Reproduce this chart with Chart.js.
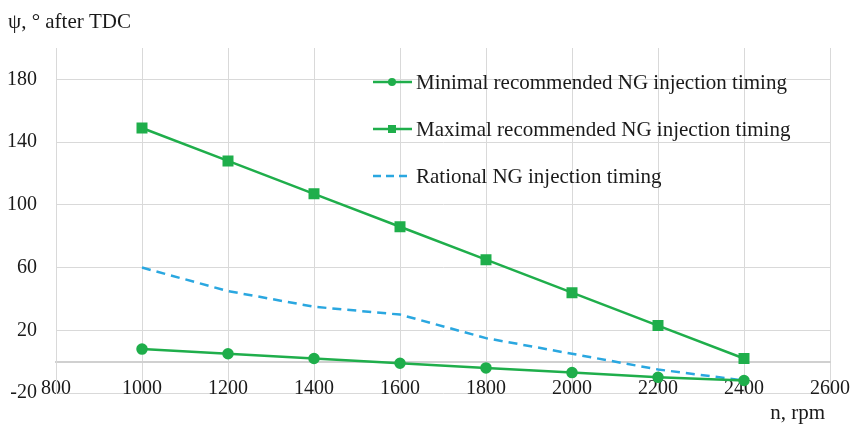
<!DOCTYPE html>
<html>
<head>
<meta charset="utf-8">
<script src="https://cdn.jsdelivr.net/npm/chart.js@4.4.1/dist/chart.umd.min.js"></script>
<style>
  html, body { margin: 0; padding: 0; background: #fff; }
  #wrap { position: relative; width: 853px; height: 426px; }
</style>
</head>
<body>
<div id="wrap"><canvas id="c" width="853" height="426"></canvas></div>
<script>
// ── Data ───────────────────────────────────────────────────────
const rpm      = [1000, 1200, 1400, 1600, 1800, 2000, 2200, 2400];
const minTiming = [8, 5, 2, -1, -4, -7, -10, -12];
const maxTiming = [149, 128, 107, 86, 65, 44, 23, 2];
const ratTiming = [60, 45, 35, 30, 15, 5, -5, -12];
const xTicks   = [800, 1000, 1200, 1400, 1600, 1800, 2000, 2200, 2400, 2600];
const yTicks   = [-20, 0, 20, 60, 100, 140, 180, 200];
const yLabels  = [-20, 20, 60, 100, 140, 180];

const seriesNames = [
  "Minimal recommended NG injection timing",
  "Maximal recommended NG injection timing",
  "Rational NG injection timing",
];

const GREEN = "#1fae4b";
const BLUE  = "#2aa7e0";
const FONT  = "'Liberation Serif', 'Times New Roman', serif";

const pts = ys => rpm.map((x, i) => ({ x, y: ys[i] }));

// ── Legend + axis titles drawn on the canvas ──────────────────
const extras = {
  id: "extras",
  afterDraw(chart) {
    const c = chart.ctx;
    c.save();
    c.fillStyle = "#1a1a1a";
    c.font = "21px " + FONT;
    c.textBaseline = "alphabetic";
    c.textAlign = "left";
    c.fillText("ψ, ° after TDC", 8, 28);
    c.textAlign = "right";
    c.fillText("n, rpm", 825, 419);

    const rows = [
      { y: 82,  color: GREEN, dash: [],     mark: "circle" },
      { y: 129, color: GREEN, dash: [],     mark: "square" },
      { y: 176, color: BLUE,  dash: [8, 5], mark: null },
    ];
    rows.forEach((r, i) => {
      c.strokeStyle = r.color;
      c.lineWidth = 2.5;
      c.setLineDash(r.dash);
      c.beginPath();
      c.moveTo(373, r.y);
      c.lineTo(412, r.y);
      c.stroke();
      c.setLineDash([]);
      c.fillStyle = r.color;
      if (r.mark === "circle") {
        c.beginPath(); c.arc(392, r.y, 4, 0, Math.PI * 2); c.fill();
      } else if (r.mark === "square") {
        c.fillRect(388, r.y - 4, 8, 8);
      }
      c.fillStyle = "#1a1a1a";
      c.textAlign = "left";
      c.textBaseline = "middle";
      c.fillText(seriesNames[i], 416, r.y + 1);
    });
    c.restore();
  },
};

new Chart(document.getElementById("c"), {
  type: "line",
  data: {
    datasets: [
      { label: seriesNames[0], data: pts(minTiming), borderColor: GREEN, backgroundColor: GREEN,
        borderWidth: 2.5, pointStyle: "circle", pointRadius: 4.5, tension: 0 },
      { label: seriesNames[1], data: pts(maxTiming), borderColor: GREEN, backgroundColor: GREEN,
        borderWidth: 2.5, pointStyle: "rect", pointRadius: 6, tension: 0 },
      { label: seriesNames[2], data: pts(ratTiming), borderColor: BLUE, backgroundColor: BLUE,
        borderWidth: 2.5, borderDash: [9, 6], pointRadius: 0, tension: 0 },
    ],
  },
  options: {
    responsive: false,
    animation: false,
    layout: { padding: { left: 0, right: 23, top: 48, bottom: 33 } },
    plugins: { legend: { display: false }, tooltip: { enabled: false } },
    scales: {
      x: {
        type: "linear",
        position: { y: 0 },
        min: 800, max: 2600,
        afterBuildTicks: s => { s.ticks = xTicks.map(v => ({ value: v })); },
        afterFit: s => { s.paddingLeft = 0; s.paddingRight = 0; },
        grid: { color: "#d9d9d9", lineWidth: 1, drawTicks: false },
        border: { color: "#d0d0d0", width: 2 },
        ticks: { color: "#1a1a1a", font: { family: FONT, size: 20 }, padding: 15, maxRotation: 0,
                 callback: v => String(v) },
      },
      y: {
        min: -20, max: 200,
        afterBuildTicks: s => { s.ticks = yTicks.map(v => ({ value: v })); },
        afterFit: s => { s.width = 56; s.paddingTop = 0; s.paddingBottom = 0; },
        grid: {
          drawTicks: false,
          color: ctx => (ctx.tick && (ctx.tick.value === 200 || ctx.tick.value === 0)) ? "rgba(0,0,0,0)" : "#d9d9d9",
        },
        border: { color: "#d9d9d9" },
        ticks: {
          color: "#1a1a1a", font: { family: FONT, size: 20 }, padding: 19,
          callback: v => yLabels.includes(v) ? String(v) : "",
        },
      },
    },
  },
  plugins: [extras],
});
</script>
</body>
</html>
